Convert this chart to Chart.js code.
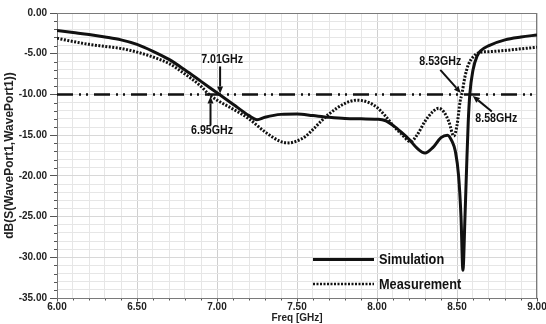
<!DOCTYPE html>
<html><head><meta charset="utf-8">
<script src="https://cdn.jsdelivr.net/npm/chart.js@4.4.1/dist/chart.umd.min.js"></script>
<style>html,body{margin:0;padding:0;background:#fff;}#wrap{width:546px;height:324px;}</style>
</head><body><div id="wrap"><canvas id="c" width="546" height="324"></canvas></div>
<script>
// ---- data ----
const xRange = [6.0, 9.0];
const yRange = [-35, 0];
const simFreq = [6.00,6.10,6.20,6.30,6.40,6.50,6.60,6.70,6.80,6.90,7.00,7.10,7.20,7.25,7.30,7.40,7.50,7.60,7.70,7.80,7.90,8.00,8.05,8.10,8.15,8.20,8.25,8.30,8.35,8.40,8.44,8.47,8.49,8.51,8.525,8.537,8.55,8.56,8.57,8.58,8.60,8.625,8.65,8.70,8.80,8.90,9.00];
const simDb   = [-2.15,-2.4,-2.65,-2.95,-3.3,-3.85,-4.7,-5.7,-7.0,-8.4,-9.8,-11.2,-12.6,-13.1,-12.8,-12.45,-12.4,-12.6,-12.8,-12.95,-13.0,-13.05,-13.2,-13.8,-14.6,-15.5,-16.6,-17.2,-16.5,-15.3,-15.0,-15.8,-17.0,-20.0,-25.0,-31.6,-25.0,-19.0,-13.5,-10.0,-7.0,-5.3,-4.6,-4.0,-3.3,-2.95,-2.7];
const measFreq = [6.00,6.10,6.20,6.30,6.40,6.50,6.60,6.70,6.80,6.90,6.95,7.00,7.10,7.20,7.30,7.40,7.45,7.50,7.55,7.60,7.65,7.70,7.80,7.875,7.95,8.00,8.05,8.10,8.15,8.21,8.25,8.30,8.35,8.385,8.42,8.45,8.48,8.50,8.52,8.53,8.55,8.57,8.60,8.64,8.70,8.80,8.90,9.00];
const measDb   = [-3.1,-3.5,-3.85,-4.1,-4.35,-4.8,-5.4,-6.2,-7.5,-9.0,-10.0,-10.7,-11.8,-13.0,-14.6,-15.8,-15.95,-15.7,-15.2,-14.3,-13.3,-12.4,-11.1,-10.7,-11.0,-11.6,-12.6,-13.8,-14.8,-15.8,-15.0,-13.3,-12.1,-11.7,-12.2,-13.4,-15.1,-13.8,-10.8,-10.0,-7.8,-6.4,-5.4,-4.85,-4.75,-4.6,-4.4,-4.2];
const refLevel = -10;
const seriesNames = ['Simulation', 'Measurement'];
const markerLabels = ['7.01GHz', '6.95GHz', '8.53GHz', '8.58GHz'];
const markerFreqs  = [7.01, 6.95, 8.53, 8.58];
const xTitle = 'Freq [GHz]';
const yTitle = 'dB(S(WavePort1,WavePort1))';

// ---- styling ----
const SANS = "'Liberation Sans',Arial,sans-serif";
const INK = '#111';
const SQUEEZE = 0.85;
const isMajorX = v => Math.abs(v * 2 - Math.round(v * 2)) < 1e-6;
const isMajorY = v => Math.abs(v / 5 - Math.round(v / 5)) < 1e-6;
// per-marker layout: [tailDx, tailDy, tipDx, tipDy, textDx, textDy]
const markerLayout = [
  [1.5, -28, 1.5, -1, 3.5, -35],
  [1.5, 31, 1.5, 2, 3, 36],
  [-21.5, -24.5, -1, -1.5, -21.5, -33],
  [22, 17, 3, 1.5, 26.5, 24]
];

const zip = (xs, ys) => xs.map((x, i) => ({x, y: ys[i]}));

function arrow(ctx, x0, y0, x1, y1) {
  const ang = Math.atan2(y1 - y0, x1 - x0);
  const hl = 7, hw = 3;
  const bx = x1 - hl * Math.cos(ang), by = y1 - hl * Math.sin(ang);
  ctx.beginPath();
  ctx.moveTo(x0, y0); ctx.lineTo(bx, by);
  ctx.lineWidth = 2; ctx.strokeStyle = INK; ctx.setLineDash([]); ctx.stroke();
  ctx.beginPath();
  ctx.moveTo(x1, y1);
  ctx.lineTo(bx + hw * Math.sin(ang), by - hw * Math.cos(ang));
  ctx.lineTo(bx - hw * Math.sin(ang), by + hw * Math.cos(ang));
  ctx.closePath(); ctx.fillStyle = INK; ctx.fill();
}

function narrowText(ctx, text, x, y) {
  ctx.save();
  ctx.translate(x, y);
  ctx.scale(SQUEEZE, 1);
  ctx.fillText(text, 0, 0);
  ctx.restore();
}

const extras = {
  id: 'extras',
  beforeDatasetsDraw(chart) {
    const {ctx, chartArea: a, scales: {x, y}} = chart;
    ctx.save();
    ctx.strokeStyle = '#555'; ctx.lineWidth = 1;
    x.ticks.forEach(t => {
      if (!isMajorX(t.value)) {
        const px = Math.round(x.getPixelForValue(t.value)) + 0.5;
        ctx.beginPath(); ctx.moveTo(px, a.bottom); ctx.lineTo(px, a.bottom + 2.5); ctx.stroke();
      }
    });
    y.ticks.forEach(t => {
      if (!isMajorY(t.value)) {
        const py = Math.round(y.getPixelForValue(t.value)) + 0.5;
        ctx.beginPath(); ctx.moveTo(a.left - 3, py); ctx.lineTo(a.left, py); ctx.stroke();
      }
    });
    ctx.strokeStyle = '#7a7a7a';
    ctx.strokeRect(a.left + 0.5, a.top + 0.5, a.right - a.left - 1, a.bottom - a.top);
    ctx.restore();
  },
  afterDatasetsDraw(chart) {
    const {ctx, chartArea: a, scales: {x, y}} = chart;
    ctx.save();
    const cy = y.getPixelForValue(refLevel);
    ctx.font = "bold 12.5px " + SANS;
    ctx.textAlign = 'center'; ctx.textBaseline = 'middle';
    markerFreqs.forEach((f, i) => {
      const cx = x.getPixelForValue(f);
      const L = markerLayout[i];
      arrow(ctx, cx + L[0], cy + L[1], cx + L[2], cy + L[3]);
      ctx.fillStyle = INK;
      narrowText(ctx, markerLabels[i], cx + L[4], cy + L[5]);
    });
    // legend
    const lx0 = a.right - 224, lx1 = a.right - 163, tx = a.right - 158;
    const rows = [a.bottom - 38.5, a.bottom - 14];
    const dashes = [[], [2, 1.5]];
    ctx.font = "bold 15px " + SANS;
    ctx.textAlign = 'left';
    seriesNames.forEach((n, i) => {
      ctx.beginPath(); ctx.setLineDash(dashes[i]);
      ctx.lineWidth = i === 0 ? 3 : 2.5; ctx.strokeStyle = INK;
      ctx.moveTo(lx0, rows[i]); ctx.lineTo(lx1, rows[i]); ctx.stroke();
      ctx.setLineDash([]);
      ctx.fillStyle = INK; narrowText(ctx, n, tx, rows[i] + 0.5);
    });
    ctx.restore();
  }
};

new Chart(document.getElementById('c'), {
  type: 'line',
  data: {
    datasets: [
      { label: seriesNames[0], data: zip(simFreq, simDb), borderColor: INK, borderWidth: 3,
        pointRadius: 0, cubicInterpolationMode: 'monotone', fill: false },
      { label: seriesNames[1], data: zip(measFreq, measDb), borderColor: INK, borderWidth: 3,
        borderDash: [2, 1.5], pointRadius: 0, cubicInterpolationMode: 'monotone', fill: false },
      { label: 'ref', data: zip(xRange, [refLevel, refLevel]), borderColor: INK, borderWidth: 2.5,
        borderDash: [16, 6, 2, 5, 2, 6], pointRadius: 0, fill: false }
    ]
  },
  options: {
    responsive: false, animation: false, devicePixelRatio: 1,
    layout: { padding: { top: 13, right: 9, left: 0, bottom: 0 } },
    plugins: { legend: { display: false }, tooltip: { enabled: false } },
    scales: {
      x: {
        type: 'linear', min: xRange[0], max: xRange[1],
        afterFit: s => { s.height = 26; s.paddingLeft = 0; s.paddingRight = 0; },
        ticks: {
          stepSize: 0.1, autoSkip: false, maxRotation: 0, padding: 0,
          color: '#222', font: { family: SANS, size: 10, weight: 'bold' },
          callback: v => isMajorX(v) ? v.toFixed(2) : ''
        },
        grid: {
          color: c => isMajorX(c.tick.value) ? '#cfcfcf' : '#e6e6e6',
          tickColor: c => isMajorX(c.tick.value) ? '#555' : 'rgba(0,0,0,0)',
          tickLength: 3.5, lineWidth: 1
        },
        border: { color: '#555', width: 1 },
        title: { display: true, text: xTitle, color: '#222', padding: { top: 0, bottom: 0 },
          font: { family: SANS, size: 10, weight: 'bold' } }
      },
      y: {
        type: 'linear', min: yRange[0], max: yRange[1],
        afterFit: s => { s.width = 57; s.paddingTop = 0; s.paddingBottom = 0; },
        ticks: {
          stepSize: 1, autoSkip: false, padding: 3,
          color: '#222', font: { family: SANS, size: 10, weight: 'bold' },
          callback: v => isMajorY(v) ? v.toFixed(2) : ''
        },
        grid: {
          color: c => isMajorY(c.tick.value) ? '#d8d8d8' : '#e6e6e6',
          tickColor: c => isMajorY(c.tick.value) ? '#555' : 'rgba(0,0,0,0)',
          tickLength: 7, lineWidth: 1
        },
        border: { color: '#555', width: 1 },
        title: { display: true, text: yTitle, color: '#222', padding: { top: 2, bottom: 0 },
          font: { family: SANS, size: 12, weight: 'bold' } }
      }
    }
  },
  plugins: [extras]
});
</script>
</body></html>
